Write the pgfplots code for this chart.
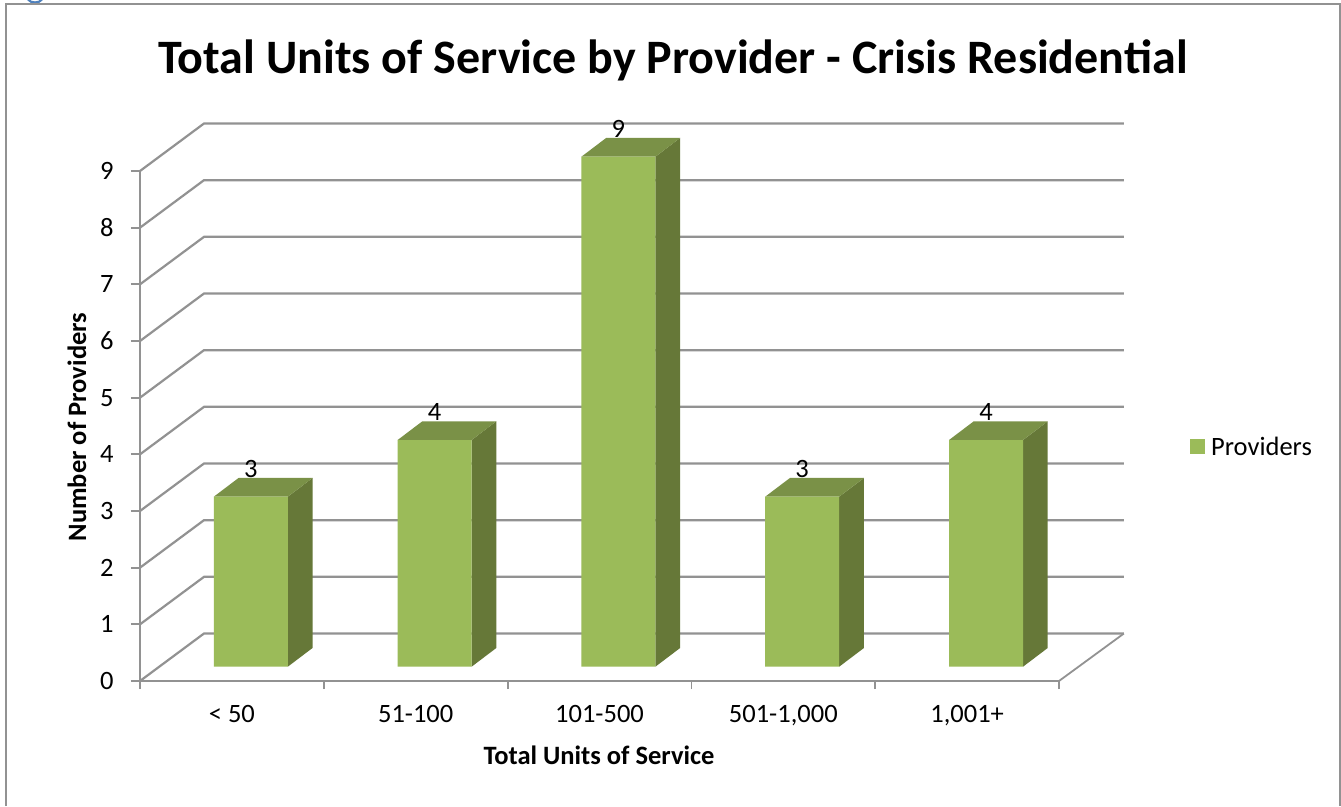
\documentclass[border=0pt]{standalone}
\usepackage{pgfplots}
\pgfplotsset{compat=1.18}
\usepackage{fontspec}
\setmainfont{Carlito}
\definecolor{gridc}{HTML}{929292}
\definecolor{barf}{HTML}{9BBB59}
\definecolor{bart}{HTML}{7A9147}
\definecolor{bars}{HTML}{667838}
\definecolor{headb}{HTML}{4F81BD}
\newcommand{\fs}[1]{\fontsize{#1}{#1}\selectfont}
\pgfplotstableread{
x v
0 3
1 4
2 9
3 3
4 4
}\barsdata
\begin{document}
\begin{tikzpicture}
\useasboundingbox (0pt,0pt) rectangle (1341pt,806pt);
\fill[white] (0pt,0pt) rectangle (1341pt,806pt);
\begin{scope}
\clip (0pt,0pt) rectangle (1341pt,806pt);
\draw[headb,line width=2.2pt] (28pt,806.5pt) .. controls (31pt,802.5pt) and (39pt,802.5pt) .. (42pt,806.5pt);
\end{scope}
\draw[gridc,line width=2pt] (6pt,0pt)--(6pt,801.5pt)--(1339.5pt,801.5pt)--(1339.5pt,0pt);
\begin{axis}[
  at={(140pt,125pt)},anchor=south west,
  scale only axis,width=919pt,height=510pt,
  xmin=-0.5,xmax=4.5,ymin=0,ymax=9,
  clip=false,
  axis lines*=left,
  axis line style={gridc,line width=2pt},
  /pgf/number format/assume math mode=true,
  xtick={0,1,2,3,4},
  xticklabels={{< 50},{51-100},{101-500},{501-1,000},{1,001+}},
  minor xtick={-0.5,0.5,1.5,2.5,3.5,4.5},
  ytick={0,1,2,3,4,5,6,7,8,9},
  tick align=outside,
  major tick length=9pt,minor tick length=8pt,
  major x tick style={draw=none},
  minor x tick style={gridc,line width=1.8pt},
  major y tick style={gridc,line width=1.8pt},
  ticklabel style={font=\fs{26.5},text=black},
  xticklabel style={yshift=-12pt},
  yticklabel style={xshift=-14pt},
  xlabel={\bfseries Total Units of Service},
  ylabel={\bfseries Number of Providers},
  xlabel style={font=\fs{26.5},at={(axis description cs:0.4995,-0.145)},anchor=center},
  ylabel style={font=\fs{26.5},at={(axis description cs:-0.0686,0.498)},anchor=center},
  title={\bfseries Total Units of Service by Provider - Crisis Residential},
  title style={font=\fs{48},at={(axis description cs:0.58,1.205)},anchor=center},
]
\addplot[gridc,line width=2.2pt] coordinates {(-0.5,0) (-0.1518,0.838) (4.853,0.838)};
\addplot[gridc,line width=1.8pt] coordinates {(4.853,0.838) (4.5,0)};
\addplot[gridc,line width=2.2pt] coordinates {(-0.5,1) (-0.1518,1.838) (4.853,1.838)};
\addplot[gridc,line width=2.2pt] coordinates {(-0.5,2) (-0.1518,2.838) (4.853,2.838)};
\addplot[gridc,line width=2.2pt] coordinates {(-0.5,3) (-0.1518,3.838) (4.853,3.838)};
\addplot[gridc,line width=2.2pt] coordinates {(-0.5,4) (-0.1518,4.838) (4.853,4.838)};
\addplot[gridc,line width=2.2pt] coordinates {(-0.5,5) (-0.1518,5.838) (4.853,5.838)};
\addplot[gridc,line width=2.2pt] coordinates {(-0.5,6) (-0.1518,6.838) (4.853,6.838)};
\addplot[gridc,line width=2.2pt] coordinates {(-0.5,7) (-0.1518,7.838) (4.853,7.838)};
\addplot[gridc,line width=2.2pt] coordinates {(-0.5,8) (-0.1518,8.838) (4.853,8.838)};
\addplot[gridc,line width=2.2pt] coordinates {(-0.5,9) (-0.1518,9.838) (4.853,9.838)};
\end{axis}
\begin{axis}[
  at={(158.9pt,139.3pt)},anchor=south west,
  scale only axis,width=919pt,height=510pt,
  xmin=-0.5,xmax=4.5,ymin=0,ymax=9,
  clip=false,
  hide axis,
  /pgf/number format/assume math mode=true,
  legend style={at={(axis description cs:1.1222,0.431)},anchor=west,draw=none,fill=none,
    font=\fs{26.5},inner sep=0pt,outer sep=0pt,
    /tikz/every odd column/.style={column sep=4pt}},
  legend image code/.code={\fill[barf] (0pt,-7.5pt) rectangle (15pt,7.5pt);},
]
% side faces
\addplot[fill=bars,draw=none,forget plot] coordinates {(0.2013,0) (0.3357,0.33) (0.3357,3.33) (0.2013,3)} --cycle;
\addplot[fill=bars,draw=none,forget plot] coordinates {(1.2013,0) (1.3357,0.33) (1.3357,4.33) (1.2013,4)} --cycle;
\addplot[fill=bars,draw=none,forget plot] coordinates {(2.2013,0) (2.3357,0.33) (2.3357,9.33) (2.2013,9)} --cycle;
\addplot[fill=bars,draw=none,forget plot] coordinates {(3.2013,0) (3.3357,0.33) (3.3357,3.33) (3.2013,3)} --cycle;
\addplot[fill=bars,draw=none,forget plot] coordinates {(4.2013,0) (4.3357,0.33) (4.3357,4.33) (4.2013,4)} --cycle;
% top faces
\addplot[fill=bart,draw=none,forget plot] coordinates {(-0.2013,3) (-0.0669,3.33) (0.3357,3.33) (0.2013,3)} --cycle;
\addplot[fill=bart,draw=none,forget plot] coordinates {(0.7987,4) (0.9331,4.33) (1.3357,4.33) (1.2013,4)} --cycle;
\addplot[fill=bart,draw=none,forget plot] coordinates {(1.7987,9) (1.9331,9.33) (2.3357,9.33) (2.2013,9)} --cycle;
\addplot[fill=bart,draw=none,forget plot] coordinates {(2.7987,3) (2.9331,3.33) (3.3357,3.33) (3.2013,3)} --cycle;
\addplot[fill=bart,draw=none,forget plot] coordinates {(3.7987,4) (3.9331,4.33) (4.3357,4.33) (4.2013,4)} --cycle;
% front faces
\addplot[ybar,bar width=74pt,fill=barf,draw=none,
  nodes near coords,
  nodes near coords style={font=\fs{26.5},text=black,inner sep=0pt,anchor=center,yshift=28pt},
] table[x=x,y=v] {\barsdata};
\legend{Providers}
\end{axis}
\end{tikzpicture}
\end{document}
